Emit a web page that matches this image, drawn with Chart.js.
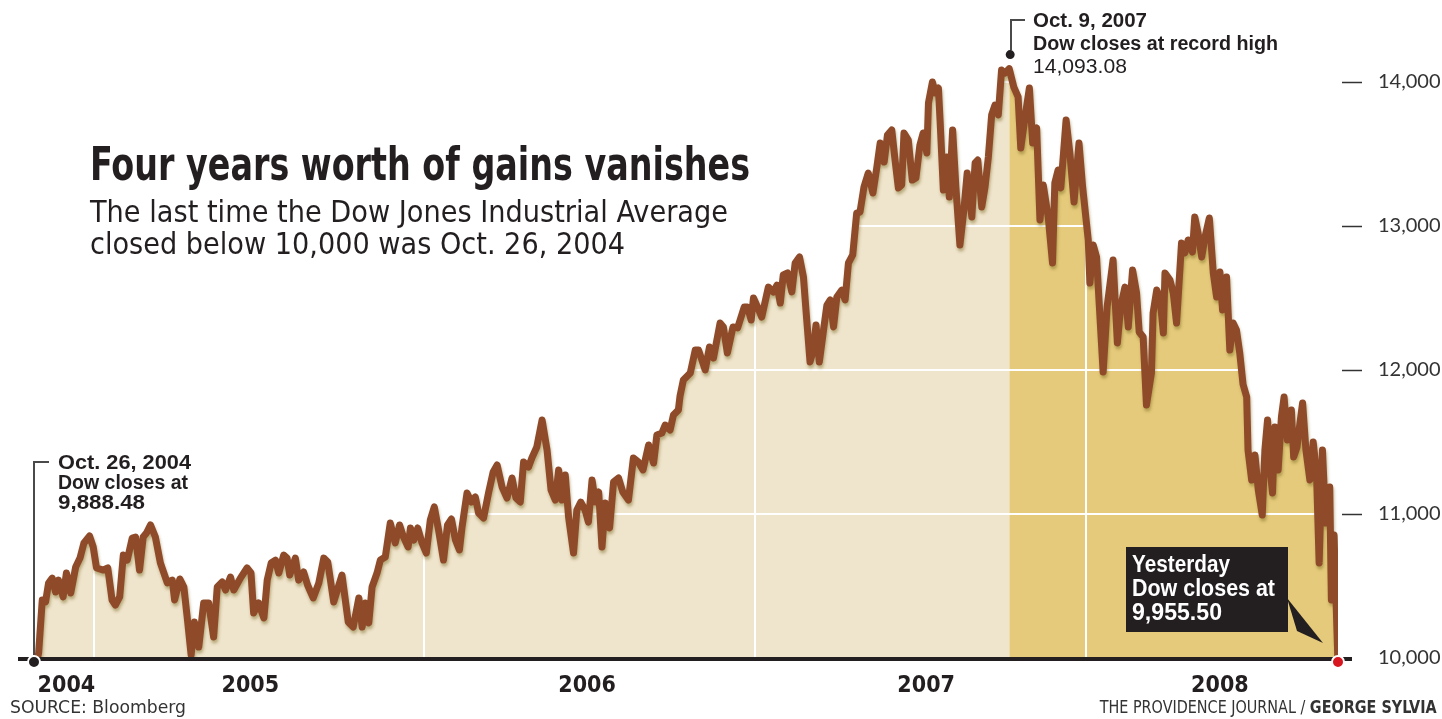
<!DOCTYPE html>
<html>
<head>
<meta charset="utf-8">
<script src="https://cdn.jsdelivr.net/npm/chart.js@4.4.1/dist/chart.umd.min.js"></script>
<style>
  html, body { margin:0; padding:0; background:#fff; }
  #wrap { position:relative; width:1442px; height:719px; overflow:hidden; color:#231f20;
          font-family:'Liberation Sans', Arial, sans-serif; }
  #c { position:absolute; left:0; top:0; }
  #marks { position:absolute; left:0; top:0; }
  .t { position:absolute; white-space:nowrap; line-height:1; }
  .t span { display:inline-block; transform-origin:0 0; }
  .narrow { font-family:'Liberation Sans Narrow','DejaVu Sans Condensed','Roboto',sans-serif; }
  .b { font-weight:700; }
  #box { position:absolute; left:1126px; top:547px; width:162px; height:85px; background:#231f20; }
</style>
</head>
<body>
<div id="wrap">
  <canvas id="c" width="1442" height="719"></canvas>
  <svg id="marks" width="1442" height="719">
    <polyline points="49,462 34,462 34,655" fill="none" stroke="#4a4a4a" stroke-width="2"/>
    <polyline points="1025,20 1011,20 1011,50" fill="none" stroke="#4a4a4a" stroke-width="2"/>
    <polygon points="1287,598 1323,643 1297,631" fill="#231f20"/>
  </svg>
  <div id="box"></div>

  <div class="t narrow b" style="left:90px;top:140px;font-size:47px;"><span data-w="660">Four years worth of gains vanishes</span></div>
  <div class="t narrow" style="left:90px;top:197px;font-size:30px;"><span data-w="638">The last time the Dow Jones Industrial Average</span></div>
  <div class="t narrow" style="left:90px;top:229px;font-size:30px;"><span data-w="535">closed below 10,000 was Oct. 26, 2004</span></div>

  <div class="t b" style="left:58px;top:452px;font-size:20px;"><span data-w="133">Oct. 26, 2004</span></div>
  <div class="t b" style="left:58px;top:472px;font-size:20px;"><span data-w="130">Dow closes at</span></div>
  <div class="t b" style="left:58px;top:492px;font-size:20px;"><span data-w="87">9,888.48</span></div>

  <div class="t b" style="left:1033px;top:10px;font-size:20px;"><span data-w="114">Oct. 9, 2007</span></div>
  <div class="t b" style="left:1033px;top:33px;font-size:20px;"><span data-w="245">Dow closes at record high</span></div>
  <div class="t" style="left:1033px;top:56px;font-size:20px;"><span data-w="94">14,093.08</span></div>

  <div class="t b" style="left:1132px;top:553px;font-size:23px;color:#fff;"><span data-w="98">Yesterday</span></div>
  <div class="t b" style="left:1132px;top:577px;font-size:23px;color:#fff;"><span data-w="143">Dow closes at</span></div>
  <div class="t b" style="left:1132px;top:601px;font-size:23px;color:#fff;"><span data-w="90">9,955.50</span></div>

  <div class="t narrow" style="left:10px;top:698px;font-size:18px;color:#333;"><span data-w="176">SOURCE: Bloomberg</span></div>
  <div class="t narrow" style="right:5px;top:698px;font-size:18px;color:#333;"><span data-w="337" data-r="1">THE PROVIDENCE JOURNAL / <b>GEORGE SYLVIA</b></span></div>
</div>

<script>
// Dow Jones Industrial Average closes, Oct 26 2004 -> Oct 6 2008 (x = decimal year)
const dates = [
  2004.820, 2004.834, 2004.845, 2004.855, 2004.864, 2004.875, 2004.885, 2004.894, 2004.908, 2004.918,
  2004.931, 2004.946, 2004.959, 2004.971, 2004.988, 2004.999,
  2005.009, 2005.030, 2005.043, 2005.056, 2005.066, 2005.079, 2005.090, 2005.102, 2005.117, 2005.127,
  2005.139, 2005.150, 2005.160, 2005.172, 2005.187, 2005.202, 2005.223, 2005.238, 2005.245, 2005.261,
  2005.273, 2005.283, 2005.295, 2005.305, 2005.318, 2005.333, 2005.348, 2005.363, 2005.374, 2005.389,
  2005.399, 2005.414, 2005.424, 2005.444, 2005.464, 2005.476, 2005.484, 2005.499, 2005.515, 2005.525,
  2005.537, 2005.550, 2005.560, 2005.575, 2005.585, 2005.593, 2005.610, 2005.620, 2005.635, 2005.647,
  2005.664, 2005.681, 2005.696, 2005.708, 2005.726, 2005.751, 2005.770, 2005.785, 2005.802, 2005.812,
  2005.822, 2005.832, 2005.842, 2005.857, 2005.867, 2005.882, 2005.897, 2005.912, 2005.925, 2005.937,
  2005.951, 2005.958, 2005.968, 2005.980, 2005.993,
  2006.006, 2006.018, 2006.030, 2006.043, 2006.058, 2006.070, 2006.082, 2006.094, 2006.106, 2006.114,
  2006.129, 2006.142, 2006.154, 2006.164, 2006.179, 2006.194, 2006.208, 2006.220, 2006.235, 2006.250,
  2006.265, 2006.277, 2006.290, 2006.300, 2006.315, 2006.325, 2006.340, 2006.356, 2006.371, 2006.383,
  2006.396, 2006.406, 2006.416, 2006.426, 2006.436, 2006.451, 2006.461, 2006.473, 2006.486, 2006.496,
  2006.507, 2006.517, 2006.527, 2006.537, 2006.547, 2006.560, 2006.572, 2006.587, 2006.600, 2006.617,
  2006.632, 2006.647, 2006.661, 2006.678, 2006.693, 2006.703, 2006.718, 2006.728, 2006.743, 2006.753,
  2006.768, 2006.773, 2006.783, 2006.804, 2006.819, 2006.829, 2006.849, 2006.862, 2006.874, 2006.894,
  2006.904, 2006.916, 2006.933, 2006.947, 2006.967, 2006.977, 2006.988, 2006.995,
  2007.007, 2007.020, 2007.040, 2007.055, 2007.066, 2007.076, 2007.085, 2007.098, 2007.111, 2007.121,
  2007.134, 2007.146, 2007.156, 2007.166, 2007.176, 2007.184, 2007.194, 2007.208, 2007.217, 2007.227,
  2007.237, 2007.247, 2007.262, 2007.272, 2007.282, 2007.295, 2007.307, 2007.317, 2007.329, 2007.342,
  2007.356, 2007.368, 2007.378, 2007.390, 2007.400, 2007.413, 2007.423, 2007.433, 2007.443, 2007.450,
  2007.463, 2007.475, 2007.486, 2007.498, 2007.508, 2007.519, 2007.524, 2007.536, 2007.544, 2007.554,
  2007.559, 2007.569, 2007.579, 2007.587, 2007.597, 2007.607, 2007.619, 2007.631, 2007.641, 2007.655,
  2007.665, 2007.673, 2007.685, 2007.695, 2007.705, 2007.715, 2007.725, 2007.735, 2007.745, 2007.755,
  2007.768, 2007.782, 2007.795, 2007.803, 2007.816, 2007.829, 2007.839, 2007.851, 2007.861, 2007.871,
  2007.886, 2007.899, 2007.906, 2007.916, 2007.924, 2007.940, 2007.952, 2007.964, 2007.979, 2007.990,
  2008.007, 2008.012, 2008.022, 2008.032, 2008.052, 2008.064, 2008.082, 2008.095, 2008.105, 2008.118,
  2008.128, 2008.141, 2008.153, 2008.161, 2008.173, 2008.183, 2008.198, 2008.203, 2008.214, 2008.224,
  2008.234, 2008.239, 2008.254, 2008.264, 2008.274, 2008.289, 2008.299, 2008.309, 2008.322, 2008.329,
  2008.339, 2008.350, 2008.360, 2008.373, 2008.385, 2008.395, 2008.405, 2008.413, 2008.425, 2008.435,
  2008.445, 2008.455, 2008.465, 2008.475, 2008.486, 2008.490, 2008.501, 2008.511, 2008.521, 2008.533,
  2008.541, 2008.549, 2008.558, 2008.564, 2008.571, 2008.581, 2008.591, 2008.599, 2008.609, 2008.621,
  2008.628, 2008.638, 2008.647, 2008.655, 2008.665, 2008.677, 2008.687, 2008.697, 2008.705, 2008.715,
  2008.725, 2008.737, 2008.742, 2008.750, 2008.762
];
const closes = [
  9888.48, 10035, 10403, 10390, 10521, 10555, 10458, 10541, 10424, 10590,
  10451, 10632, 10694, 10799, 10847, 10771,
  10625, 10611, 10625, 10403, 10368, 10424, 10715, 10680, 10833, 10840,
  10611, 10840, 10868, 10924, 10840, 10660, 10521, 10541, 10403, 10549,
  10493, 10285, 10021, 10250, 10076, 10382, 10382, 10146, 10493, 10528,
  10472, 10562, 10472, 10555, 10625, 10590, 10312, 10382, 10278, 10541,
  10660, 10680, 10590, 10715, 10694, 10576, 10694, 10541, 10597, 10507,
  10417, 10521, 10694, 10667, 10389, 10576, 10250, 10215, 10417, 10215,
  10382, 10243, 10493, 10590, 10680, 10701, 10937, 10799, 10924, 10840,
  10771, 10903, 10819, 10903, 10799,
  10729, 10958, 11049, 10889, 10680, 10924, 10965, 10819, 10750, 10910,
  11146, 11083, 11118, 11007, 10972, 11146, 11292, 11340, 11187, 11111,
  11250, 11111, 11083, 11361, 11326, 11389, 11465, 11653, 11444, 11167,
  11097, 11306, 11097, 11271, 10979, 10729, 11028, 11083, 11028, 10944,
  11236, 11083, 11153, 10771, 11076, 10903, 11222, 11250, 11153, 11097,
  11389, 11361, 11306, 11479, 11354, 11549, 11562, 11618, 11583, 11687,
  11722, 11820, 11931, 11979, 12139, 12139, 12000, 12160, 12083, 12326,
  12299, 12118, 12299, 12292, 12438, 12438, 12347, 12500,
  12438, 12368, 12576, 12542, 12590, 12465, 12660, 12674, 12542, 12743,
  12785, 12646, 12347, 12056, 12139, 12313, 12056, 12299, 12451, 12486,
  12299, 12507, 12555, 12486, 12743, 12799, 13090, 13097, 13271, 13368,
  13229, 13410, 13576, 13444, 13632, 13667, 13458, 13264, 13285, 13646,
  13597, 13319, 13333, 13562, 13646, 13507, 13854, 14000, 13924, 13958,
  13736, 13250, 13479, 13201, 13667, 13264, 12868, 13111, 13368, 13063,
  13438, 13458, 13132, 13271, 13479, 13771, 13840, 13771, 14083, 14062,
  14093.08, 13965, 13896, 13542, 13757, 13958, 13576, 13681, 13042, 13285,
  13063, 12743, 13299, 13389, 13264, 13736, 13493, 13167, 13576, 13271,
  12903, 12604, 12868, 12785, 11986, 12438, 12764, 12188, 12438, 12576,
  12299, 12694, 12535, 12264, 12229, 11757, 11979, 12396, 12555, 12500,
  12257, 12674, 12625, 12535, 12326, 12882, 12813, 12903, 12819, 13063,
  12951, 12785, 12924, 13056, 12674, 12507, 12681, 12417, 12646, 12139,
  12326, 12278, 12118, 11900, 11812, 11444, 11236, 11410, 11167, 10993,
  11444, 11653, 11285, 11146, 11604, 11306, 11674, 11812, 11514, 11722,
  11396, 11465, 11632, 11771, 11444, 11236, 11500, 11285, 10660, 11444,
  10937, 11188, 10403, 10854, 9955.50
];
const yearLabels = ["2004", "2005", "2006", "2007", "2008"];
const yearLabelAt = [2004.918, 2005.474, 2006.492, 2007.517, 2008.405];
const yearBreaks = [2005, 2006, 2007, 2008];
const yTicks = [10000, 11000, 12000, 13000, 14000];

const INK = "#231f20";
const LINE = "#8e4a29";
const LIGHT = "#efe4cc";
const DARK = "#e5ca7b";

const points = dates.map((d, i) => ({ x: d, y: closes[i] }));
let peakIdx = 0;
closes.forEach((v, i) => { if (v > closes[peakIdx]) peakIdx = i; });

const decor = {
  id: "decor",
  beforeDatasetDraw(chart, args) {
    if (args.index !== 0) return;
    const { ctx, chartArea: a, scales: { x, y } } = chart;
    // white grid over the fill, under the line
    ctx.save();
    ctx.strokeStyle = "#fff"; ctx.lineWidth = 2;
    yearBreaks.forEach(v => {
      const px = Math.round(x.getPixelForValue(v));
      ctx.beginPath(); ctx.moveTo(px, a.top); ctx.lineTo(px, a.bottom); ctx.stroke();
    });
    yTicks.slice(1).forEach(v => {
      const py = Math.round(y.getPixelForValue(v));
      ctx.beginPath(); ctx.moveTo(a.left, py); ctx.lineTo(a.right, py); ctx.stroke();
    });
    ctx.restore();
    ctx.save();
    ctx.shadowColor = "rgba(120,105,30,0.45)";
    ctx.shadowOffsetX = 1; ctx.shadowOffsetY = 3; ctx.shadowBlur = 3;
  },
  afterDatasetDraw(chart, args) {
    if (args.index === 0) chart.ctx.restore();
  },
  afterDraw(chart) {
    const { ctx, chartArea: a, scales: { x, y } } = chart;
    ctx.save();
    // baseline
    ctx.fillStyle = INK;
    ctx.fillRect(18, a.bottom - 1, 1334, 4);
    // right tick dashes
    ctx.strokeStyle = "#333"; ctx.lineWidth = 1.5;
    yTicks.slice(1).forEach(v => {
      const py = Math.round(y.getPixelForValue(v)) + 0.5;
      ctx.beginPath(); ctx.moveTo(a.right + 4, py); ctx.lineTo(a.right + 24, py); ctx.stroke();
    });
    // start / end / peak dots
    const dot = (px, py, r, col) => {
      ctx.beginPath(); ctx.arc(px, py, r, 0, Math.PI * 2);
      ctx.fillStyle = col; ctx.fill();
      ctx.lineWidth = 2; ctx.strokeStyle = "#fff"; ctx.stroke();
    };
    dot(x.getPixelForValue(dates[0]), a.bottom + 4, 6, INK);
    dot(x.getPixelForValue(dates[dates.length - 1]), a.bottom + 4, 6, "#d7161f");
    dot(x.getPixelForValue(dates[peakIdx]) + 1, y.getPixelForValue(closes[peakIdx]) - 14, 5.5, INK);
    ctx.restore();
  }
};

new Chart(document.getElementById("c"), {
  type: "line",
  data: {
    datasets: [
      { label: "Dow close", data: points, borderColor: LINE, borderWidth: 7, pointRadius: 0,
        fill: false, tension: 0, borderJoinStyle: "round", borderCapStyle: "round", order: 0 },
      { label: "before peak", data: points.slice(0, peakIdx + 1), borderWidth: 0, pointRadius: 0,
        fill: "start", backgroundColor: LIGHT, order: 1 },
      { label: "after peak", data: points.slice(peakIdx), borderWidth: 0, pointRadius: 0,
        fill: "start", backgroundColor: DARK, order: 2 }
    ]
  },
  options: {
    responsive: false, animation: false, devicePixelRatio: 1,
    layout: { padding: { left: 34, top: 46, right: 0, bottom: 0 } },
    plugins: { legend: { display: false }, tooltip: { enabled: false } },
    scales: {
      x: {
        type: "linear", min: 2004.82, max: 2008.762,
        grid: { display: false }, border: { display: false },
        afterBuildTicks: ax => { ax.ticks = yearLabelAt.map(v => ({ value: v })); },
        afterFit: ax => { ax.height = 61; },
        ticks: {
          autoSkip: false, maxRotation: 0, padding: 6, color: INK,
          font: { family: "'Liberation Sans Narrow','DejaVu Sans Condensed',Roboto,sans-serif", size: 23, weight: "bold" },
          callback: (v, i) => yearLabels[i]
        }
      },
      y: {
        position: "right", min: 10000, max: 14250,
        grid: { display: false }, border: { display: false },
        afterBuildTicks: ax => { ax.ticks = yTicks.map(v => ({ value: v })); },
        afterFit: ax => { ax.width = 104; },
        ticks: {
          padding: 32, color: "#333",
          font: { family: "Lato, 'Open Sans', sans-serif", size: 20 },
          callback: v => v.toLocaleString("en-US")
        }
      }
    }
  },
  plugins: [decor]
});

// squeeze each text run to the width it has in the print graphic
function fitText() {
  document.querySelectorAll(".t span[data-w]").forEach(s => {
    s.style.transform = "none";
    const w = s.getBoundingClientRect().width;
    const k = (+s.dataset.w) / w;
    if (s.dataset.r) s.style.transformOrigin = "100% 0";
    s.style.transform = "scaleX(" + k.toFixed(4) + ")";
  });
}
fitText();
if (document.fonts && document.fonts.ready) document.fonts.ready.then(fitText);
</script>
</body>
</html>
